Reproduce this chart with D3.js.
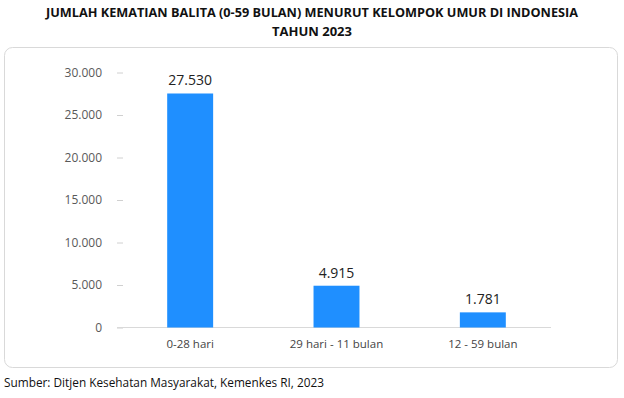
<!DOCTYPE html>
<html>
<head>
<meta charset="utf-8">
<script src="https://cdn.jsdelivr.net/npm/d3@7"></script>
<style>
  body { margin: 0; background: #fff; }
  text { font-family: "Open Sans", "Noto Sans", sans-serif; }
</style>
</head>
<body>
<div id="chart"></div>
<script>
// data
var categories = ["0-28 hari", "29 hari - 11 bulan", "12 - 59 bulan"];
var values = [27530, 4915, 1781];
var yTicks = [0, 5000, 10000, 15000, 20000, 25000, 30000];
var titleLines = ["JUMLAH KEMATIAN BALITA (0-59 BULAN) MENURUT KELOMPOK UMUR DI INDONESIA", "TAHUN 2023"];
var sourceText = "Sumber: Ditjen Kesehatan Masyarakat, Kemenkes RI, 2023";

var svgWidth = 624;
var svgHeight = 398;

var svg = d3.select("#chart")
  .append("svg")
  .attr("width", svgWidth)
  .attr("height", svgHeight);

// number format with dot as thousands separator
var fmt = d3.formatLocale({ decimal: ",", thousands: ".", grouping: [3], currency: ["", ""] }).format(",.0f");

// title
svg.append("text")
  .attr("x", 312).attr("y", 16.5)
  .attr("text-anchor", "middle")
  .attr("font-weight", "bold")
  .attr("font-size", 13)
  .attr("fill", "#111")
  .attr("textLength", 532)
  .attr("lengthAdjust", "spacingAndGlyphs")
  .text(titleLines[0]);

svg.append("text")
  .attr("x", 312).attr("y", 35.5)
  .attr("text-anchor", "middle")
  .attr("font-weight", "bold")
  .attr("font-size", 13)
  .attr("fill", "#111")
  .text(titleLines[1]);

// card frame
svg.append("rect")
  .attr("x", 4.5).attr("y", 47.5)
  .attr("width", 613).attr("height", 320)
  .attr("rx", 8)
  .attr("fill", "#fff")
  .attr("stroke", "#d9d9d9")
  .attr("stroke-width", 1);

// scales
var x = d3.scaleBand()
  .domain(categories)
  .range([117, 556])
  .paddingInner(0.686)
  .paddingOuter(0.343);

var y = d3.scaleLinear()
  .domain([0, 30000])
  .range([327.5, 72.5]);

// y axis, labels + small dashes, no domain line
var yAxis = svg.append("g")
  .attr("transform", "translate(123,0)")
  .call(d3.axisLeft(y).tickValues(yTicks).tickFormat(fmt).tickSize(6).tickPadding(15));
yAxis.select(".domain").remove();
yAxis.selectAll("line").attr("stroke", "#d0d0d0");
yAxis.selectAll("text")
  .attr("fill", "#595959")
  .attr("font-size", 12)
  .style("font-family", "'Open Sans', sans-serif");

// baseline
svg.append("line")
  .attr("x1", 117).attr("x2", 551)
  .attr("y1", y(0)).attr("y2", y(0))
  .attr("stroke", "#d9d9d9");

// bars
svg.selectAll(".bar")
  .data(values)
  .enter()
  .append("rect")
  .attr("class", "bar")
  .attr("x", (d, i) => x(categories[i]))
  .attr("y", d => y(d))
  .attr("width", x.bandwidth())
  .attr("height", d => y(0) - y(d))
  .attr("fill", "#1f8fff");

// value labels
svg.selectAll(".val")
  .data(values)
  .enter()
  .append("text")
  .attr("class", "val")
  .attr("x", (d, i) => x(categories[i]) + x.bandwidth() / 2)
  .attr("y", d => y(d) - 8)
  .attr("text-anchor", "middle")
  .attr("font-size", 14)
  .attr("fill", "#222")
  .text(d => fmt(d));

// category labels
svg.selectAll(".cat")
  .data(categories)
  .enter()
  .append("text")
  .attr("class", "cat")
  .attr("x", d => x(d) + x.bandwidth() / 2)
  .attr("y", 348)
  .attr("text-anchor", "middle")
  .attr("font-size", 11.5)
  .attr("fill", "#444")
  .text(d => d);

// source
svg.append("text")
  .attr("x", 4).attr("y", 387)
  .attr("font-size", 12.5)
  .attr("fill", "#111")
  .attr("textLength", 320)
  .attr("lengthAdjust", "spacingAndGlyphs")
  .text(sourceText);
</script>
</body>
</html>
